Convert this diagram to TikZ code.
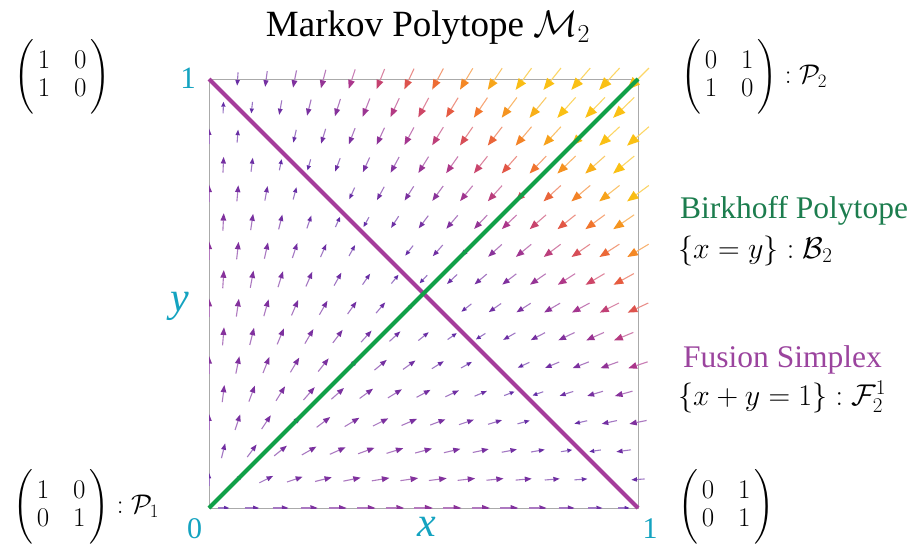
\RequirePackage{fix-cm}
\documentclass[tikz,border=0pt]{standalone}
\usepackage{amsmath}
\usepackage[no-math]{fontspec}
\setmainfont{Liberation Serif}
\definecolor{axcyan}{RGB}{20,163,192}
\definecolor{lgreen}{RGB}{16,160,72}
\definecolor{tgreen}{RGB}{28,125,78}
\definecolor{lpurple}{RGB}{165,60,155}
\definecolor{tpurple}{RGB}{155,68,158}
\definecolor{framegray}{RGB}{170,170,170}
\newcommand\cmapval[9]{%
 \pgfmathtruncatemacro\cmapout{#1<.15 ? #2+(#3-#2)*#1/.15 : (#1<.25 ? #3+(#4-#3)*(#1-.15)/.1 : (#1<.32 ? #4+(#5-#4)*(#1-.25)/.07 : (#1<.38 ? #5+(#6-#5)*(#1-.32)/.06 : (#1<.45 ? #6+(#7-#6)*(#1-.38)/.07 : (#1<.55 ? #7+(#8-#7)*(#1-.45)/.1 : (#1<.65 ? #8+(#9-#8)*(#1-.55)/.1 : #9))))))}}
\newcommand\mtx[4]{\left(\vphantom{\rule[-29pt]{0pt}{70pt}}\begin{array}{@{\hspace{4pt}}c@{\hspace{24pt}}c@{\hspace{4pt}}}#1&#2\\#3&#4\end{array}\right)}
\tikzset{
  mat/.style={inner sep=0pt, font=\fontsize{27}{28}\selectfont},
  sidetext/.style={inner sep=0pt, font=\fontsize{31.5}{36}\selectfont},
  sidemath/.style={inner sep=0pt, font=\fontsize{30}{36}\selectfont},
  axlab/.style={inner sep=0pt, text=axcyan},
  polyline/.style={line width=4pt},
}
\begin{document}
\begin{tikzpicture}[x=1pt,y=-1pt]
\useasboundingbox (0,0) rectangle (920,543);
\coordinate (TL) at (209,79);
\coordinate (TR) at (638,79);
\coordinate (BL) at (209,508);
\coordinate (BR) at (638,508);
% frame
\draw[framegray, line width=1pt] (BL) rectangle (TR);
% vector field
\begin{scope}
\clip (209,508) rectangle (720,30);
\foreach \j in {0,...,15}{
  \pgfmathtruncatemacro\aImax{isodd(\j) ? 14 : 15}
  \pgfmathsetmacro\aOff{isodd(\j) ? 0.5 : 0}
  \foreach \i in {0,...,\aImax}{
    \pgfmathsetmacro\aX{(\i+\aOff)/15}
    \pgfmathsetmacro\aY{1-\j/15}
    \pgfmathsetmacro\aS{1-\aX-\aY}
    \pgfmathsetmacro\aVx{\aS*\aX}
    \pgfmathsetmacro\aVy{\aS*\aY}
    \pgfmathsetmacro\aM{sqrt(\aVx*\aVx+\aVy*\aVy)}
    \ifdim \aM pt > 0.003pt
      \pgfmathsetmacro\aT{\aM/1.4142}
      \pgfmathsetmacro\aLen{6+25*(\aT)^0.4}
      \pgfmathsetmacro\aUx{\aVx/\aM}
      \pgfmathsetmacro\aUy{-\aVy/\aM}
      \cmapval{\aT}{95}{130}{172}{205}{228}{242}{247}{250}\let\aR\cmapout
      \cmapval{\aT}{45}{50}{55}{70}{88}{118}{160}{192}\let\aG\cmapout
      \cmapval{\aT}{168}{158}{140}{105}{68}{45}{28}{20}\let\aB\cmapout
      \definecolor{arrc}{RGB}{\aR,\aG,\aB}
      \pgfmathsetmacro\aPx{209+429*\aX}
      \pgfmathsetmacro\aPy{508-429*\aY}
      \pgfmathsetmacro\aHl{max(4.5,0.42*\aLen)}
      \pgfmathsetmacro\aHw{max(2.2,0.17*\aLen)}
      \pgfmathsetmacro\aTx{\aPx-0.5*\aLen*\aUx}
      \pgfmathsetmacro\aTy{\aPy-0.5*\aLen*\aUy}
      \pgfmathsetmacro\aEx{\aPx+0.5*\aLen*\aUx}
      \pgfmathsetmacro\aEy{\aPy+0.5*\aLen*\aUy}
      \pgfmathsetmacro\aBx{\aEx-\aHl*\aUx}
      \pgfmathsetmacro\aBy{\aEy-\aHl*\aUy}
      \draw[arrc!65!white, line width=1.1pt] (\aTx,\aTy) -- (\aBx,\aBy);
      \fill[arrc] (\aEx,\aEy) -- (\aBx-\aHw*\aUy,\aBy+\aHw*\aUx) -- (\aBx+\aHw*\aUy,\aBy-\aHw*\aUx) -- cycle;
    \fi
  }
}
\end{scope}
% polytope lines
\draw[lpurple, polyline] (TL) -- (BR);
\draw[lgreen, polyline] (BL) -- (TR);
% title
\node[inner sep=0pt, anchor=base, font=\fontsize{37}{44}\selectfont] (title) at (428,37) {Markov Polytope $\mathcal{M}_2$};
% corner matrices
\node[mat, anchor=west] (mTL) at (14,77) {$\mtx{1}{0}{1}{0}$};
\node[mat, anchor=west] (mTR) at (681,77) {$\mtx{0}{1}{1}{0} : \mathcal{P}_2$};
\node[mat, anchor=west] (mBL) at (13,507) {$\mtx{1}{0}{0}{1} : \mathcal{P}_1$};
\node[mat, anchor=west] (mBR) at (678,507) {$\mtx{0}{1}{0}{1}$};
% side labels
\node[sidetext, anchor=base west, text=tgreen] (birk) at (680,218) {Birkhoff Polytope};
\node[sidemath, anchor=base west] (birkeq) at (678,258) {$\{x = y\} : \mathcal{B}_2$};
\node[sidetext, anchor=base west, text=tpurple] (fus) at (683,367) {Fusion Simplex};
\node[sidemath, anchor=base west] (fuseq) at (678,405) {$\{x + y = 1\} : \mathcal{F}_2^1$};
% axis labels
\node[axlab, anchor=base, font=\fontsize{31}{36}\selectfont] (one-top) at (188,88) {1};
\node[axlab, anchor=base, font=\fontsize{30}{36}\selectfont] (zero) at (194.5,538) {0};
\node[axlab, anchor=base, font=\fontsize{30}{36}\selectfont] (one-right) at (650,538) {1};
\node[axlab, anchor=base, font=\fontsize{42}{50}\selectfont\itshape] (xlab) at (427,536) {x};
\node[axlab, anchor=base, font=\fontsize{42}{50}\selectfont\itshape] (ylab) at (180,311) {y};
\end{tikzpicture}
\end{document}
